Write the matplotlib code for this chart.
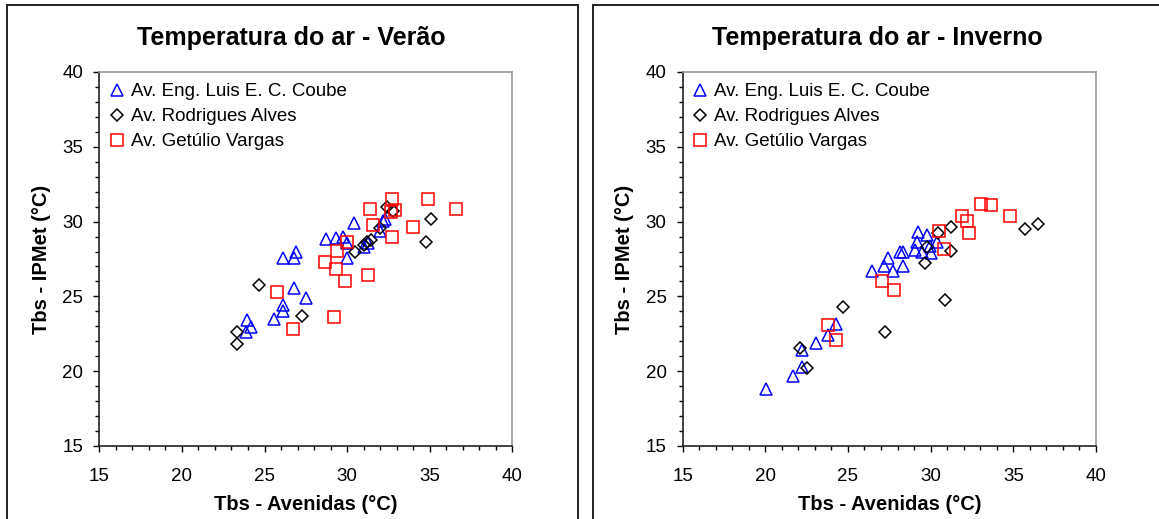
import matplotlib
matplotlib.use('Agg')
import matplotlib.pyplot as plt
from matplotlib.patches import Rectangle
from matplotlib.ticker import MultipleLocator

plt.rcParams['font.family'] = ['Liberation Sans', 'DejaVu Sans']

# Verao
v_tri_x = [23.95, 23.9, 24.2, 25.55, 26.15, 26.15, 26.8, 27.5, 26.15, 26.8, 26.9, 28.7, 29.35, 29.75, 30.0, 30.0, 30.4, 31.05, 31.25, 32.0, 32.2, 32.3]
v_tri_y = [23.4, 22.6, 22.95, 23.5, 24.4, 24.0, 25.55, 24.9, 27.55, 27.6, 27.95, 28.85, 28.9, 28.95, 28.6, 27.6, 29.9, 28.3, 28.6, 29.4, 30.05, 30.15]
v_dia_x = [23.35, 23.35, 24.65, 27.25, 30.5, 31.0, 31.2, 31.45, 32.0, 32.4, 32.75, 35.1, 34.75]
v_dia_y = [22.6, 21.8, 25.75, 23.7, 27.95, 28.45, 28.65, 28.8, 29.55, 31.0, 30.7, 30.2, 28.65]
v_sq_x = [25.75, 26.75, 28.65, 29.4, 29.35, 29.9, 30.0, 29.2, 31.25, 31.4, 31.55, 32.7, 32.65, 32.9, 32.7, 34.0, 34.9, 36.6]
v_sq_y = [25.3, 22.8, 27.3, 28.05, 26.8, 26.0, 28.65, 23.65, 26.45, 30.85, 29.75, 31.5, 30.65, 30.8, 28.95, 29.65, 31.5, 30.85]

# Inverno
i_tri_x = [20.05, 21.7, 22.25, 22.25, 23.05, 23.8, 24.25, 26.45, 27.2, 27.45, 27.75, 28.15, 28.35, 29.05, 29.25, 29.2, 29.45, 29.75, 29.95, 30.0, 30.4, 28.3]
i_tri_y = [18.8, 19.65, 20.25, 21.4, 21.9, 22.45, 23.15, 26.7, 27.05, 27.55, 26.7, 27.95, 27.05, 28.1, 29.3, 28.65, 28.0, 29.1, 28.4, 27.9, 28.65, 28.0]
i_dia_x = [22.1, 22.5, 24.67, 27.27, 29.65, 29.75, 30.45, 31.24, 31.26, 30.84, 35.72, 36.5]
i_dia_y = [21.55, 20.22, 24.31, 22.62, 27.25, 28.3, 29.22, 29.67, 28.02, 24.73, 29.5, 29.84]
i_sq_x = [23.8, 24.25, 27.06, 27.8, 30.53, 30.81, 31.89, 32.19, 32.35, 33.06, 33.63, 34.8]
i_sq_y = [23.11, 22.07, 26.04, 25.44, 29.39, 28.16, 30.4, 30.07, 29.22, 31.19, 31.1, 30.4]

labels = ['Av. Eng. Luis E. C. Coube', 'Av. Rodrigues Alves', 'Av. Getúlio Vargas']
titles = ['Temperatura do ar - Verão', 'Temperatura do ar - Inverno']

W, H = 1159, 519
fig = plt.figure(figsize=(W / 100, H / 100), dpi=100)

# panel frames
fig.add_artist(Rectangle((7.3 / W, -0.1), (577.7 - 7.3) / W, (H - 5.5) / H + 0.1,
                         transform=fig.transFigure, fill=False, lw=1.4, ec='#222222'))
fig.add_artist(Rectangle((592.7 / W, -0.1), 0.5, (H - 5.5) / H + 0.1,
                         transform=fig.transFigure, fill=False, lw=1.4, ec='#222222'))

ax1 = fig.add_axes([99.3 / W, (H - 446) / H, 413 / W, 374 / H])
ax2 = fig.add_axes([682.6 / W, (H - 446) / H, 413.4 / W, 374 / H])

data = [(v_tri_x, v_tri_y, v_dia_x, v_dia_y, v_sq_x, v_sq_y),
        (i_tri_x, i_tri_y, i_dia_x, i_dia_y, i_sq_x, i_sq_y)]

for ax, d, title, tx in zip([ax1, ax2], data, titles, [0.465, 0.471]):
    tri_x, tri_y, dia_x, dia_y, sq_x, sq_y = d
    ax.plot(tri_x, tri_y, '^', ms=9, mfc='none', mec='blue', mew=1.1, label=labels[0])
    ax.plot(dia_x, dia_y, 'D', ms=6, mfc='none', mec='black', mew=1.1, label=labels[1])
    ax.plot(sq_x, sq_y, 's', ms=8, mfc='none', mec='red', mew=1.1, label=labels[2])
    ax.set_xlim(15, 40)
    ax.set_ylim(15, 40)
    ax.xaxis.set_major_locator(MultipleLocator(5))
    ax.yaxis.set_major_locator(MultipleLocator(5))
    ax.xaxis.set_minor_locator(MultipleLocator(1))
    ax.yaxis.set_minor_locator(MultipleLocator(1))
    ax.tick_params(which='major', direction='out', length=4.5, width=1, labelsize=13.5)
    ax.tick_params(which='minor', direction='out', length=3, width=1)
    ax.tick_params(axis='x', which='major', pad=11)
    ax.tick_params(axis='y', which='major', pad=7)
    for s in ['top', 'right']:
        ax.spines[s].set_color('#999999')
        ax.spines[s].set_linewidth(1.2)
    for s in ['left', 'bottom']:
        ax.spines[s].set_color('#222222')
        ax.spines[s].set_linewidth(1.2)
    ax.set_xlabel('Tbs - Avenidas (°C)', fontsize=14.5, fontweight='bold')
    ax.set_ylabel('Tbs - IPMet (°C)', fontsize=14.5, fontweight='bold')
    ax.xaxis.set_label_coords(0.5, -0.13)
    ax.yaxis.set_label_coords(-0.118, 0.5)
    ax.text(tx, 1.092, title, transform=ax.transAxes, ha='center', va='center',
            fontsize=18, fontweight='bold')
    ax.legend(loc='upper left', bbox_to_anchor=(0.025, 0.97), frameon=False,
              fontsize=13.5, handlelength=0.8, handletextpad=0.35,
              labelspacing=0.42, borderaxespad=0, borderpad=0)

fig.savefig('out.png', dpi=100)
